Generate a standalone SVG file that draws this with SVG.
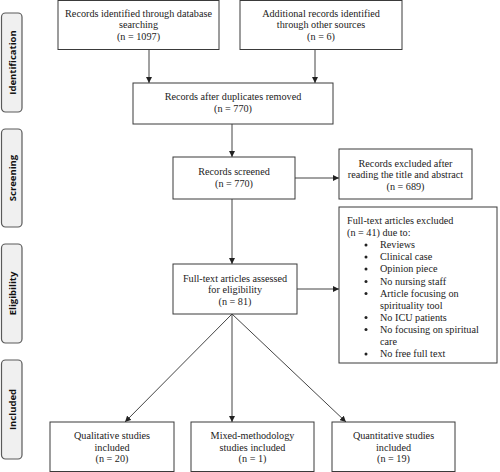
<svg xmlns="http://www.w3.org/2000/svg" width="500" height="472" viewBox="0 0 500 472">
<defs>
<marker id="ah" markerWidth="6" markerHeight="6" refX="6" refY="3" orient="auto" markerUnits="userSpaceOnUse">
<path d="M0,0 L6,3 L0,6 Z" fill="#222"/>
</marker>
<style>
.box{fill:#fff;stroke:#3a3a3a;stroke-width:1}
.side{fill:#f0f0f0;stroke:#5a5a5a;stroke-width:1.2}
.t{font-family:"Liberation Serif","Times New Roman",serif;font-size:10.2px;fill:#222}
.c{text-anchor:middle}
.s{font-family:"Open Sans","DejaVu Sans",sans-serif;font-size:9.5px;font-weight:bold;fill:#111;text-anchor:middle}
.ln{stroke:#444;stroke-width:1;fill:none;marker-end:url(#ah)}
.b{fill:#222}
</style>
</defs>
<rect width="500" height="472" fill="#fff"/>
<g id="side-identification"><rect class="side" x="1.5" y="13" width="20.5" height="99" rx="4"/><text class="s" transform="translate(16,62.5) rotate(-90)">Identification</text></g>
<g id="side-screening"><rect class="side" x="1.5" y="129" width="20.5" height="98" rx="4"/><text class="s" transform="translate(16,178) rotate(-90)">Screening</text></g>
<g id="side-eligibility"><rect class="side" x="1.5" y="244" width="20.5" height="99" rx="4"/><text class="s" transform="translate(16,293.5) rotate(-90)">Eligibility</text></g>
<g id="side-included"><rect class="side" x="1.5" y="360" width="20.5" height="99" rx="4"/><text class="s" transform="translate(16,409.5) rotate(-90)">Included</text></g>

<g id="connectors">
<line class="ln" x1="149" y1="49.5" x2="149" y2="83"/>
<line class="ln" x1="315" y1="49.5" x2="315" y2="83"/>
<line class="ln" x1="232" y1="124" x2="232" y2="157"/>
<line class="ln" x1="295" y1="178" x2="339" y2="178"/>
<line class="ln" x1="232" y1="199" x2="232" y2="264"/>
<line class="ln" x1="297" y1="289" x2="339" y2="289"/>
<line class="ln" x1="232" y1="314" x2="125" y2="422"/>
<line class="ln" x1="232" y1="314" x2="232" y2="422"/>
<line class="ln" x1="232" y1="314" x2="346" y2="422"/>
</g>

<g id="n-db"><rect class="box" x="58" y="0.5" width="161" height="49"/>
<text class="t c" x="138.5" y="16.5">Records identified through database</text>
<text class="t c" x="138.5" y="28">searching</text>
<text class="t c" x="138.5" y="39.5">(n = 1097)</text></g>
<g id="n-other"><rect class="box" x="240" y="0.5" width="162" height="49"/>
<text class="t c" x="321" y="16.5">Additional records identified</text>
<text class="t c" x="321" y="28">through other sources</text>
<text class="t c" x="321" y="39.5">(n = 6)</text></g>
<g id="n-dup"><rect class="box" x="133" y="83" width="200" height="41"/>
<text class="t c" x="233" y="99.5">Records after duplicates removed</text>
<text class="t c" x="233" y="112">(n = 770)</text></g>
<g id="n-screened"><rect class="box" x="173" y="157" width="122" height="42"/>
<text class="t c" x="234" y="174.5">Records screened</text>
<text class="t c" x="234" y="186.5">(n = 770)</text></g>
<g id="n-excl1"><rect class="box" x="339" y="149" width="133" height="50"/>
<text class="t c" x="405.5" y="166.5">Records excluded after</text>
<text class="t c" x="405.5" y="178">reading the title and abstract</text>
<text class="t c" x="405.5" y="189.5">(n = 689)</text></g>
<g id="n-fulltext"><rect class="box" x="173" y="264" width="124" height="50"/>
<text class="t c" x="235" y="281.5">Full-text articles assessed</text>
<text class="t c" x="235" y="293">for eligibility</text>
<text class="t c" x="235" y="305">(n = 81)</text></g>
<g id="n-excl2"><rect class="box" x="339" y="207" width="158" height="156"/>
<text class="t" x="347" y="223.5">Full-text articles excluded</text>
<text class="t" x="347" y="236">(n = 41) due to:</text>
<circle class="b" cx="366" cy="245" r="1.5"/><text class="t" x="380" y="248">Reviews</text>
<circle class="b" cx="366" cy="257" r="1.5"/><text class="t" x="380" y="260">Clinical case</text>
<circle class="b" cx="366" cy="269" r="1.5"/><text class="t" x="380" y="272">Opinion piece</text>
<circle class="b" cx="366" cy="281.5" r="1.5"/><text class="t" x="380" y="284.5">No nursing staff</text>
<circle class="b" cx="366" cy="293.5" r="1.5"/><text class="t" x="380" y="296.5">Article focusing on</text>
<text class="t" x="380" y="308.5">spirituality tool</text>
<circle class="b" cx="366" cy="317.5" r="1.5"/><text class="t" x="380" y="320.5">No ICU patients</text>
<circle class="b" cx="366" cy="329.5" r="1.5"/><text class="t" x="380" y="332.5">No focusing on spiritual</text>
<text class="t" x="380" y="344.5">care</text>
<circle class="b" cx="366" cy="354" r="1.5"/><text class="t" x="380" y="357">No free full text</text>
</g>
<g id="n-qual"><rect class="box" x="50" y="422" width="124" height="49.5"/>
<text class="t c" x="112" y="438.5">Qualitative studies</text>
<text class="t c" x="112" y="450.5">included</text>
<text class="t c" x="112" y="462">(n = 20)</text></g>
<g id="n-mixed"><rect class="box" x="191" y="422" width="123" height="49.5"/>
<text class="t c" x="252.5" y="438.5">Mixed-methodology</text>
<text class="t c" x="252.5" y="450.5">studies included</text>
<text class="t c" x="252.5" y="462">(n = 1)</text></g>
<g id="n-quant"><rect class="box" x="332" y="422" width="123" height="49.5"/>
<text class="t c" x="393.5" y="438.5">Quantitative studies</text>
<text class="t c" x="393.5" y="450.5">included</text>
<text class="t c" x="393.5" y="462">(n = 19)</text></g>
</svg>
